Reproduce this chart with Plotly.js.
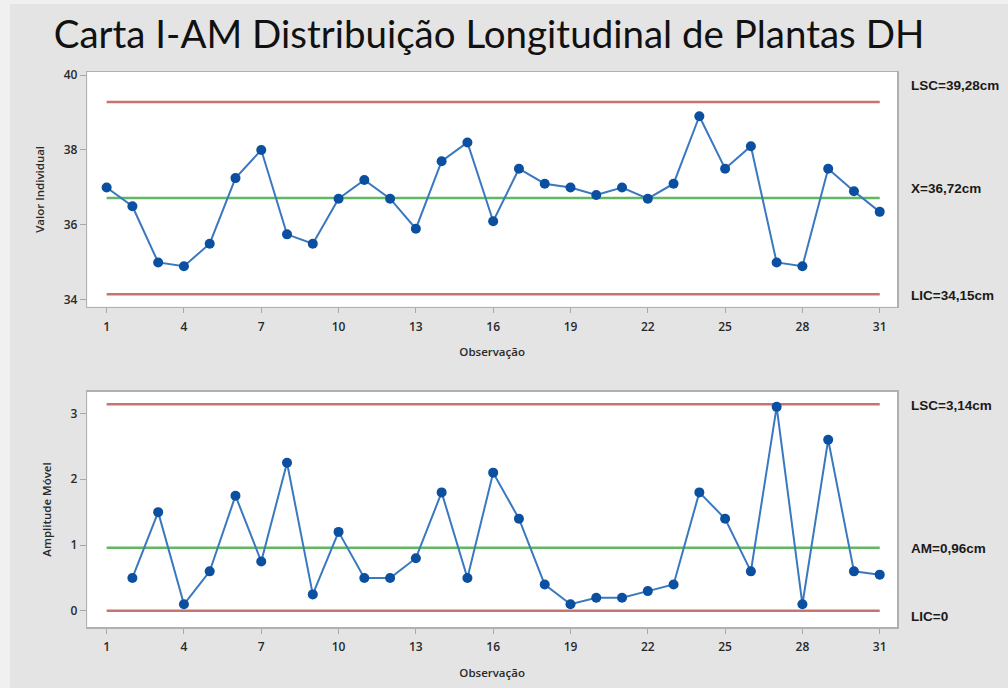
<!DOCTYPE html>
<html>
<head>
<meta charset="utf-8">
<script src="https://cdn.plot.ly/plotly-3.0.1.min.js"></script>
<style>
  html, body { margin: 0; padding: 0; background: #f0f0f0; }
  #chart { width: 1008px; height: 688px; }
</style>
</head>
<body>
<div id="chart"></div>
<script>
// ---- Data ----
const observations = [1,2,3,4,5,6,7,8,9,10,11,12,13,14,15,16,17,18,19,20,21,22,23,24,25,26,27,28,29,30,31];
const individualValues = [37.0,36.5,35.0,34.9,35.5,37.25,38.0,35.75,35.5,36.7,37.2,36.7,35.9,37.7,38.2,36.1,37.5,37.1,37.0,36.8,37.0,36.7,37.1,38.9,37.5,38.1,35.0,34.9,37.5,36.9,36.35];
const mrObservations = [2,3,4,5,6,7,8,9,10,11,12,13,14,15,16,17,18,19,20,21,22,23,24,25,26,27,28,29,30,31];
const movingRanges = [0.5,1.5,0.1,0.6,1.75,0.75,2.25,0.25,1.2,0.5,0.5,0.8,1.8,0.5,2.1,1.4,0.4,0.1,0.2,0.2,0.3,0.4,1.8,1.4,0.6,3.1,0.1,2.6,0.6,0.55];

const iLimits = {lsc: 39.28, center: 36.72, lic: 34.15};
const mrLimits = {lsc: 3.14, center: 0.96, lic: 0};
const iLabels = ["LSC=39,28cm", "X=36,72cm", "LIC=34,15cm"];
const mrLabels = ["LSC=3,14cm", "AM=0,96cm", "LIC=0"];

const xTicks = [1,4,7,10,13,16,19,22,25,28,31];
const iTicks = [34,36,38,40];
const mrTicks = [0,1,2,3];

const titleText = "Carta I-AM Distribuição Longitudinal de Plantas DH";
const xTitle = "Observação";
const iYTitle = "Valor Individual";
const mrYTitle = "Amplitude Móvel";

// ---- Styles ----
const RED = "#c97370";
const GREEN = "#62b862";
const BLUE_LINE = "#3a78bf";
const BLUE_MARK = "#0a4fa0";
const W = 1008, H = 688;
const px = v => v / W;
const py = v => 1 - v / H;

function hline(xa, ya, yv, color) {
  return {x: [observations[0], observations[observations.length-1]], y: [yv, yv],
    xaxis: xa, yaxis: ya, mode: "lines", line: {color: color, width: 2.5},
    hoverinfo: "skip", showlegend: false};
}

const traces = [
  hline("x", "y", iLimits.lsc, RED),
  hline("x", "y", iLimits.lic, RED),
  hline("x", "y", iLimits.center, GREEN),
  {x: observations, y: individualValues, xaxis: "x", yaxis: "y", mode: "lines+markers",
    line: {color: BLUE_LINE, width: 2}, marker: {color: BLUE_MARK, size: 10},
    showlegend: false},
  hline("x2", "y2", mrLimits.lsc, RED),
  hline("x2", "y2", mrLimits.lic, RED),
  hline("x2", "y2", mrLimits.center, GREEN),
  {x: mrObservations, y: movingRanges, xaxis: "x2", yaxis: "y2", mode: "lines+markers",
    line: {color: BLUE_LINE, width: 2}, marker: {color: BLUE_MARK, size: 10},
    showlegend: false}
];

const tickFont = {family: "Open Sans, sans-serif", size: 12, color: "#2a2a2a", weight: 600};
const titleFont = {family: "Open Sans, sans-serif", size: 11.5, color: "#2a2a2a", weight: 600};

function xAxis(anchor) {
  return {domain: [px(87.3), px(897)], range: [0.25, 31.67], anchor: anchor,
    tickvals: xTicks, ticks: "outside", ticklen: 5, tickcolor: "#a8a8a8", tickwidth: 1,
    ticklabelstandoff: 3,
    showline: true, linecolor: "#b0b0b0", linewidth: 1.5, mirror: true,
    showgrid: false, zeroline: false, tickfont: tickFont, automargin: false,
    title: {text: xTitle, font: titleFont, standoff: 14}};
}
function yAxis(anchor, dom, rng, ticks, title) {
  return {domain: dom, range: rng, anchor: anchor, tickvals: ticks,
    ticks: "outside", ticklen: 6, tickcolor: "#a8a8a8", tickwidth: 1,
    showline: true, linecolor: "#b0b0b0", linewidth: 1.5, mirror: true,
    showgrid: false, zeroline: false, tickfont: tickFont, automargin: false,
    title: {text: title, font: titleFont, standoff: 16}};
}

const labelFont = {family: "Liberation Sans, Arial, sans-serif", size: 13.5, color: "#1a1a1a", weight: "bold"};
function rightLabel(text, yref, yv) {
  return {text: "<b>" + text + "</b>", xref: "paper", x: px(909), xanchor: "left",
    yref: yref, y: yv, yanchor: "middle", showarrow: false, font: labelFont};
}

const layout = {
  width: W, height: H,
  margin: {l: 0, r: 0, t: 0, b: 0},
  paper_bgcolor: "#e4e4e4", plot_bgcolor: "#ffffff",
  title: {text: titleText, font: {family: "Lato, sans-serif", size: 38.5, color: "#111111"},
    x: px(489), xanchor: "center", xref: "paper", y: py(35), yanchor: "middle", yref: "paper"},
  xaxis: xAxis("y"),
  yaxis: yAxis("x", [py(306.7), py(72)], [33.82, 40.08], iTicks, iYTitle),
  xaxis2: xAxis("y2"),
  yaxis2: yAxis("x2", [py(627.3), py(391.7)], [-0.25, 3.33], mrTicks, mrYTitle),
  annotations: [
    rightLabel(iLabels[0], "paper", py(85)),
    rightLabel(iLabels[1], "paper", py(188)),
    rightLabel(iLabels[2], "paper", py(295)),
    rightLabel(mrLabels[0], "paper", py(405)),
    rightLabel(mrLabels[1], "paper", py(548)),
    rightLabel(mrLabels[2], "paper", py(616))
  ],
  shapes: [
    {type: "rect", xref: "paper", yref: "paper", x0: 0, x1: px(10), y0: 0, y1: 1,
      fillcolor: "#f0f0f0", line: {width: 0}, layer: "below"},
    {type: "rect", xref: "paper", yref: "paper", x0: 0, x1: 1, y0: py(4), y1: 1,
      fillcolor: "#f0f0f0", line: {width: 0}, layer: "below"}
  ]
};

Plotly.newPlot("chart", traces, layout, {displayModeBar: false, staticPlot: true});
</script>
</body>
</html>
